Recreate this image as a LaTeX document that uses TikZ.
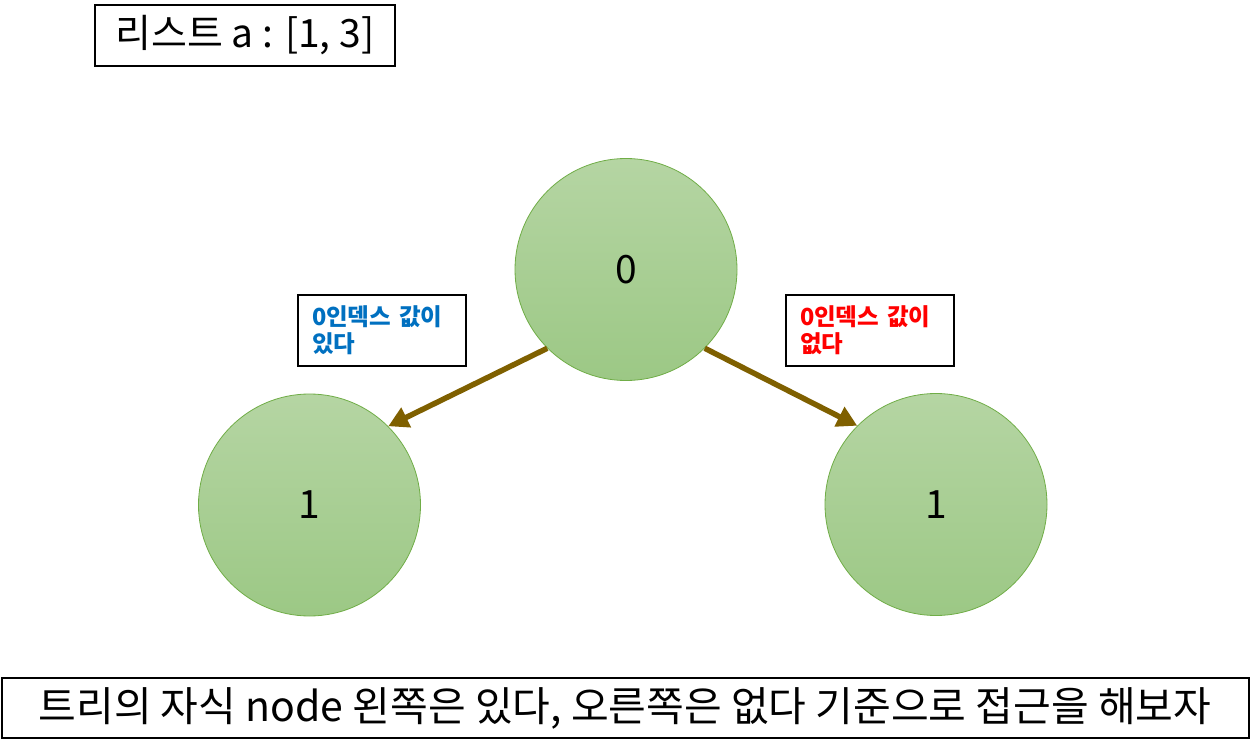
\documentclass[tikz,border=0pt]{standalone}
\usepackage{fontspec}
\setmainfont{Noto Sans CJK KR}
\usetikzlibrary{arrows.meta}
\definecolor{arrowc}{HTML}{7F6000}
\definecolor{gtop}{HTML}{B5D5A3}
\definecolor{gbot}{HTML}{9CC885}
\definecolor{gline}{HTML}{70AD47}
\definecolor{bluet}{HTML}{0070C0}
\definecolor{redt}{HTML}{FF0000}
\tikzset{
  treenode/.style={circle, draw=gline, line width=0.8pt, top color=gtop, bottom color=gbot,
    minimum size=222pt, inner sep=0pt, font=\fontsize{39}{44}\selectfont},
  labelbox/.style={draw=black, line width=2pt, minimum width=168pt, minimum height=71pt,
    inner sep=0pt, text width=140pt, align=left, font=\bfseries\fontsize{23.5}{27}\selectfont},
  titlebox/.style={draw=black, line width=1.5pt, inner sep=0pt},
  edgearrow/.style={draw=arrowc, line width=5.5pt, -{Triangle[length=20pt,width=21pt]}}
}
\begin{document}
\begin{tikzpicture}[x=1pt,y=-1pt]
\useasboundingbox (0,0) rectangle (1250,754);
\node[titlebox, minimum width=300pt, minimum height=61pt, font=\fontsize{39}{44}\selectfont] (title) at (245,35.5) {리스트 a : [1, 3]};
\node[treenode] (root) at (626,269.5) {0};
\node[treenode] (left) at (309.5,505) {1};
\node[treenode] (right) at (936,504.5) {1};
\node[labelbox, text=bluet] (lbl) at (382,330.5) {0인덱스 값이\\있다};
\node[labelbox, text=redt] (rbl) at (870,330.5) {0인덱스 값이\\없다};
\draw[edgearrow] (root.225) -- (left.45);
\draw[edgearrow] (root.-45) -- (right.135);
\node[titlebox, line width=2pt, minimum width=1247pt, minimum height=60pt, font=\fontsize{41}{46}\selectfont] (note) at (625,708) {트리의 자식 node 왼쪽은 있다, 오른쪽은 없다 기준으로 접근을 해보자};
\end{tikzpicture}
\end{document}
